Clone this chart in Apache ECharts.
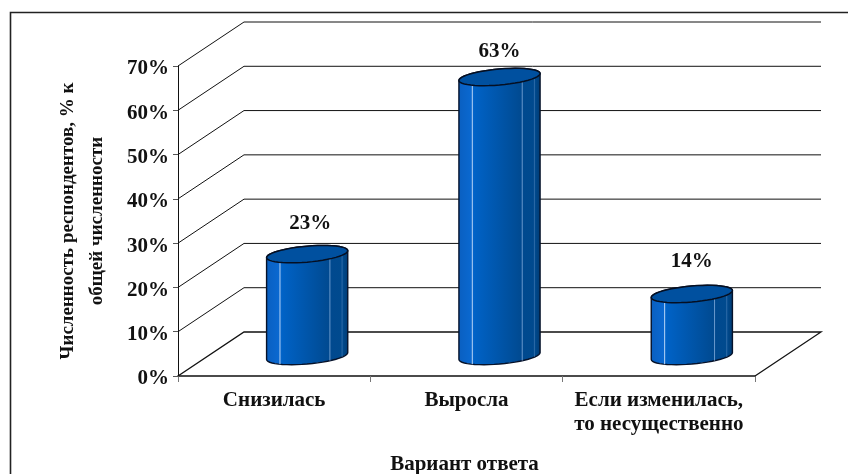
<!DOCTYPE html>
<html><head><meta charset="utf-8">
<style>html,body{margin:0;padding:0;background:#fff}#c{width:848px;height:474px}</style>
<script src="https://cdn.jsdelivr.net/npm/echarts@6/dist/echarts.min.js"></script>
</head><body><div id="c"></div>
<script>
const categories = ['Снизилась', 'Выросла', 'Если изменилась,\nто несущественно'];
const values = [23, 63, 14];
const yTicks = [0, 10, 20, 30, 40, 50, 60, 70];
const xTitle = 'Вариант ответа';
const yTitle = 'Численность респондентов, % к\nобщей численности';

const DX = 66, DY = 44;           // depth of the 3D box
const SERIF = '"Liberation Serif", serif';
const labelGaps = [31, 25, 32];

function ellipsePts(cx, cy, rx, ry, from, to, n) {
  const pts = [];
  for (let k = 0; k <= n; k++) {
    const t = from + (to - from) * k / n;
    pts.push([cx + rx * Math.cos(t), cy + ry * Math.sin(t) - rx * Math.cos(t) * 0.085]);
  }
  return pts;
}

const chart = echarts.init(document.getElementById('c'), null, {renderer: 'canvas'});
chart.setOption({
  animation: false,
  backgroundColor: '#fff',
  grid: {left: 178, top: 66, width: 577, height: 310, outerBoundsMode: 'none'},
  graphic: [{
    type: 'polyline', silent: true, z: 0,
    shape: {points: [[10.5, 474], [10.5, 12.5], [848, 12.5]]},
    style: {stroke: '#222', lineWidth: 1.6, fill: 'none'}
  }],
  xAxis: {
    type: 'category', data: categories, boundaryGap: true,
    axisLine: {lineStyle: {color: '#111', width: 1.5}},
    axisTick: {show: true, length: 6, lineStyle: {color: '#777', width: 1}},
    axisLabel: {interval: 0, fontFamily: SERIF, fontWeight: 'bold', fontSize: 21, color: '#111', margin: 13, lineHeight: 24},
    name: xTitle, nameLocation: 'middle', nameGap: 78,
    nameTextStyle: {fontFamily: SERIF, fontWeight: 'bold', fontSize: 21, color: '#111', padding: [0, 4, 0, 0]}
  },
  yAxis: {
    type: 'value', min: 0, max: 70, interval: 10,
    axisLine: {show: true, lineStyle: {color: '#111', width: 1}},
    axisTick: {show: true, length: 5, lineStyle: {color: '#555', width: 1}},
    splitLine: {show: false},
    axisLabel: {fontFamily: SERIF, fontWeight: 'bold', fontSize: 21, color: '#111', margin: 9, formatter: '{value}%', verticalAlign: 'top', lineHeight: 6},
    name: yTitle, nameLocation: 'middle', nameGap: 66, nameRotate: 90,
    nameTextStyle: {fontFamily: SERIF, fontWeight: 'bold', fontSize: 19, color: '#111', lineHeight: 29}
  },
  series: [{
    type: 'custom', silent: true, z: 1, clip: false,
    data: yTicks.map(v => [0, v]),
    renderItem(params, api) {
      const r = params.coordSys;
      const y = api.coord([0, api.value(1)])[1];
      const pts = [[r.x, y], [r.x + DX, y - DY], [r.x + r.width + DX, y - DY]];
      const isFloor = api.value(1) === 0;
      if (isFloor) pts.push([r.x + r.width, y]);
      return {type: 'polyline', shape: {points: pts}, style: {stroke: '#111', lineWidth: isFloor ? 1.3 : 1, fill: 'none'}};
    }
  }, {
    type: 'custom', silent: true, z: 2, clip: false,
    data: values.map((v, i) => [i, v]),
    renderItem(params, api) {
      const i = api.value(0), v = api.value(1);
      const p = api.coord([i, v]);
      const cx = p[0] + DX / 2;
      const top = p[1] - DY / 2 + 2;
      const base = api.coord([i, 0])[1] - DY / 2 + 2;
      const rx = api.size([1, 0])[0] * 0.211, ry = 8;
      const body = ellipsePts(cx, top, rx, ry, Math.PI, 2 * Math.PI, 24)
        .concat(ellipsePts(cx, base, rx, ry, 0, Math.PI, 24));
      const grad = new echarts.graphic.LinearGradient(0, 0, 1, 0, [
        {offset: 0, color: '#0a5fc0'}, {offset: 0.15, color: '#0a68d0'},
        {offset: 0.2, color: '#0062c6'}, {offset: 0.78, color: '#00498f'},
        {offset: 0.93, color: '#004a8e'}, {offset: 1, color: '#003a72'}
      ]);
      const stripe = (f, col) => {
        const x = cx - rx + 2 * rx * f;
        const t = (x - cx) / rx, s = Math.sqrt(1 - t * t) * ry;
        const tilt = -(x - cx) * 0.085;
        return {type: 'line', shape: {x1: x, y1: top + s + tilt, x2: x, y2: base + s + tilt},
                style: {stroke: col, lineWidth: 1}};
      };
      return {type: 'group', children: [
        {type: 'polygon', shape: {points: body}, style: {fill: grad, stroke: '#06122a', lineWidth: 1.4}},
        stripe(0.165, 'rgba(205,225,250,0.9)'),
        stripe(0.78, 'rgba(140,180,225,0.75)'),
        stripe(0.93, 'rgba(90,140,195,0.5)'),
        {type: 'polygon', shape: {points: ellipsePts(cx, top, rx, ry, 0, 2 * Math.PI, 48)},
         style: {fill: '#00509f', stroke: '#050f22', lineWidth: 1.5}},
        {type: 'text', x: cx + (i === 0 ? 3 : 0), y: top - labelGaps[i],
         style: {text: v + '%', fill: '#111', font: 'bold 21px ' + SERIF, align: 'center', verticalAlign: 'middle'}}
      ]};
    }
  }]
});
</script></body></html>
